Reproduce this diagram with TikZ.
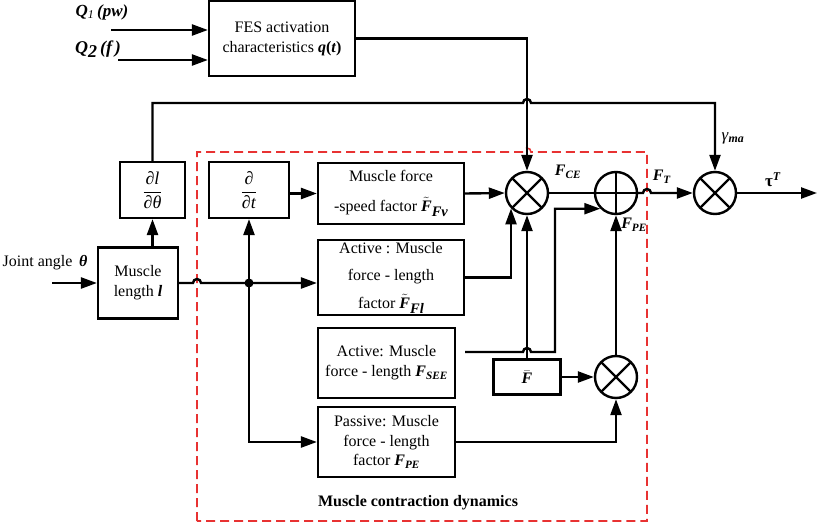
\documentclass[tikz,border=0pt]{standalone}
\usepackage{fontspec}
\setmainfont{Liberation Serif}
\usetikzlibrary{arrows.meta,calc}
\definecolor{dashred}{RGB}{232,50,50}
\newcommand{\bi}[1]{\textbf{\textit{#1}}}
\begin{document}
\begin{tikzpicture}[x=1pt,y=-1pt,
  blk/.style={draw, line width=2.2pt, align=center, inner sep=1pt, font=\fontsize{16}{19}\selectfont},
  lbl/.style={inner sep=0pt, font=\fontsize{16}{19}\selectfont},
  conn/.style={line width=2.4pt},
  arr/.style={conn, -{Triangle[length=16pt,width=11pt]}},
  mult/.style={circle, draw, line width=2.4pt, minimum size=42pt, inner sep=0pt,
    path picture={\draw[line width=2.4pt] (path picture bounding box.north west) -- (path picture bounding box.south east)
      (path picture bounding box.north east) -- (path picture bounding box.south west);}},
  summ/.style={circle, draw, line width=2.4pt, minimum size=42pt, inner sep=0pt,
    path picture={\draw[line width=2.4pt] (path picture bounding box.north) -- (path picture bounding box.south)
      (path picture bounding box.east) -- (path picture bounding box.west);}}]
\useasboundingbox (0,0) rectangle (820,525);

% dashed region
\draw[dashred, line width=1.6pt, dash pattern=on 9pt off 5pt]
  (197,521) -- (197,152) -- (523,152) arc[start angle=180,end angle=360,radius=4]
  -- (647,152) -- (647,521) -- cycle;

% blocks
\node[blk, minimum width=146pt, minimum height=75pt, font=\fontsize{16}{20}\selectfont] (fes) at (282,38.5)
  {FES activation\\characteristics \bi{q}\textbf{(}\bi{t}\textbf{)}};
\node[blk, minimum width=80pt, minimum height=71pt, font=\fontsize{16}{20}\selectfont] (ml) at (138,283)
  {Muscle\\length \bi{l}};
\node[blk, minimum width=65pt, minimum height=56pt, font=\fontsize{18}{20}\selectfont] (dl) at (152.5,190)
  {$\displaystyle\frac{\mbox{∂\textit{l}}}{\mbox{∂\textit{θ}}}$};
\node[blk, minimum width=80pt, minimum height=56pt, font=\fontsize{18}{20}\selectfont] (ddt) at (249,190)
  {$\displaystyle\frac{\mbox{∂}}{\mbox{∂\textit{t}}}$};
\node[blk, minimum width=146pt, minimum height=61pt] (fv) at (391,193.5)
  {Muscle force\\[11pt]-speed factor $\tilde{\mbox{\bi{F}}}$\raisebox{-5pt}{\fontsize{14.5}{14}\selectfont\bi{Fv}}};
\node[blk, minimum width=146pt, minimum height=75pt] (fl) at (391,277.5)
  {Active : Muscle\\[8.5pt]force - length\\[8.5pt]factor $\tilde{\mbox{\bi{F}}}$\raisebox{-5pt}{\fontsize{14.5}{14}\selectfont\bi{Fl}}};
\node[blk, minimum width=137pt, minimum height=70pt, font=\fontsize{16}{20}\selectfont] (see) at (386.5,363)
  {Active: Muscle\\force - length \bi{F}\textsubscript{\bi{SEE}}};
\node[blk, minimum width=137pt, minimum height=70pt, font=\fontsize{16}{19.5}\selectfont] (pas) at (386.5,442)
  {Passive: Muscle\\force - length\\factor \bi{F}\textsubscript{\bi{PE}}};
\node[blk, minimum width=67pt, minimum height=35pt] (fbar) at (527,377)
  {$\bar{\mbox{\bi{F}}}$};

\node[mult] (mce) at (527,193) {};
\node[summ] (sum) at (616,193) {};
\node[mult] (mout) at (715,193) {};
\node[mult] (mpe) at (616,377) {};

% free ends
\coordinate (q1s) at (111,30);
\coordinate (q2s) at (118,60);
\coordinate (ja) at (52,283);
\coordinate (dot) at (249,283);
\coordinate (seeo) at (465,352);
\coordinate (tauend) at (817,193);

% labels
\node[lbl, font=\fontsize{17}{19}\selectfont] (lq1) at (102,12) {\bi{Q}\textsubscript{\textit{1}}\,\bi{(pw)}};
\node[lbl, font=\fontsize{18}{19}\selectfont] (lq2) at (98,49) {\bi{Q}\raisebox{-4pt}{\bi{2}}\,\bi{(f\,)}};
\node[lbl] (lja) at (45,263) {Joint angle\, \bi{θ}};
\node[lbl] (lce) at (568,172) {\bi{F}\textsubscript{\bi{CE}}};
\node[lbl] (lt) at (662,177) {\bi{F}\textsubscript{\bi{T}}};
\node[lbl] (lpe) at (634,225) {\bi{F}\textsubscript{\bi{PE}}};
\node[lbl, font=\fontsize{17}{19}\selectfont] (lg) at (733,138) {\textit{γ}\textsubscript{\bi{ma}}};
\node[lbl, font=\fontsize{17}{19}\selectfont] (ltau) at (773,180) {\textbf{τ}\textsuperscript{\bi{T}}};
\node[lbl] (lmcd) at (418,503) {\textbf{Muscle contraction dynamics}};

% connectors
\draw[arr] (q1s) -- (q1s -| fes.west);
\draw[arr] (q2s) -- (q2s -| fes.west);
\draw[arr] (fes.east) -| (mce.north);
\draw[arr] (dl.north) |- (523,103) arc[start angle=180,end angle=360,radius=4]
  -- (mout.north |- 0,103) -- (mout.north);
\draw[arr] (ml.north -| dl.south) -- (dl.south);
\draw[arr] (ja) -- (ml.west);
\draw[arr] (ml.east) -- (193,283) arc[start angle=180,end angle=360,radius=4] -- (ml.east -| fl.west);
\fill (dot) circle[radius=4.5pt];
\draw[arr] (dot) -- (ddt.south);
\draw[arr] (dot) |- (pas.west);
\draw[arr] (ddt.east |- fv.west) -- (fv.west);
\draw[arr] (fv.east) -- (mce.west);
\draw[arr] (fl.east) -| (mce.224.4);
\draw[arr] (fbar.north) -- (mce.south);
\draw[arr] (seeo) -- (523,352) arc[start angle=180,end angle=360,radius=4] -- (555,352) |- (sum.225.6);
\draw[arr] (fbar.east) -- (mpe.west);
\draw[arr] (pas.east) -| (mpe.south);
\draw[arr] (mpe.north) -- (sum.south);
\draw[conn] (mce.east) -- (sum.west);
\draw[arr] (sum.east) -- (643,193) arc[start angle=180,end angle=360,radius=4] -- (mout.west);
\draw[arr] (mout.east) -- (tauend);
\end{tikzpicture}
\end{document}
